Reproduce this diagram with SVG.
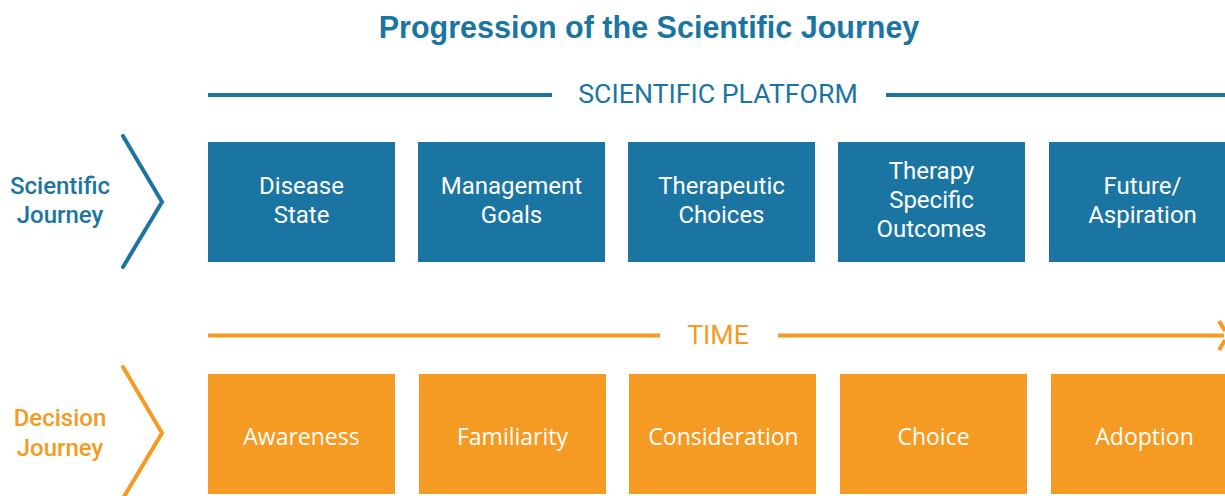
<svg xmlns="http://www.w3.org/2000/svg" width="1225" height="496" viewBox="0 0 1225 496">
<style>
.title{font-family:"Liberation Sans",Arial,sans-serif;font-size:30.5px;font-weight:bold;fill:#1b75a3;text-anchor:middle}
.blue{fill:#1b75a3}
.orange{fill:#f59a23}
.btxt{font-family:Roboto,"Liberation Sans",sans-serif;font-size:24px;fill:#ffffff;text-anchor:middle}
.otxt{font-family:"Open Sans","Liberation Sans",sans-serif;font-size:23px;fill:#ffffff;text-anchor:middle}
.lbl{font-family:Roboto,"Liberation Sans",sans-serif;font-size:24px;font-weight:500;text-anchor:middle}
.hdr{font-family:Roboto,"Liberation Sans",sans-serif;font-size:26.7px;text-anchor:middle}
.bl{stroke:#1b75a3;stroke-width:4;fill:none}
.ol{stroke:#f59a23;stroke-width:4;fill:none}
</style>
<rect width="1225" height="496" fill="#ffffff"/>
<text class="title" x="649" y="38">Progression of the Scientific Journey</text>
<g id="connectors">
<line class="bl" x1="208" y1="95" x2="552" y2="95"/>
<line class="bl" x1="886" y1="95" x2="1225" y2="95"/>
<line class="ol" x1="208" y1="335.5" x2="660" y2="335.5"/>
<line class="ol" x1="778" y1="335.5" x2="1224" y2="335.5"/>
<polyline class="ol" points="1219,321 1225,331"/>
<polyline class="ol" points="1219,350 1225,340"/>
<polyline class="bl" stroke-linecap="round" points="123,136 162,202 123,267"/>
<polyline class="ol" stroke-linecap="round" points="123,367 162,433 122,500"/>
</g>
<text class="hdr blue" x="718" y="103">SCIENTIFIC PLATFORM</text>
<text class="hdr orange" x="718" y="344">TIME</text>
<g id="label-scientific">
<text class="lbl blue" x="60" y="194">Scientific</text>
<text class="lbl blue" x="60" y="223">Journey</text>
</g>
<g id="label-decision">
<text class="lbl orange" x="60" y="426">Decision</text>
<text class="lbl orange" x="60" y="456">Journey</text>
</g>
<g id="disease-state"><rect class="blue" x="208" y="142" width="187" height="120"/><text class="btxt" x="301.5" y="194">Disease</text><text class="btxt" x="301.5" y="223">State</text></g>
<g id="management-goals"><rect class="blue" x="418" y="142" width="187" height="120"/><text class="btxt" x="511.5" y="194">Management</text><text class="btxt" x="511.5" y="223">Goals</text></g>
<g id="therapeutic-choices"><rect class="blue" x="628" y="142" width="187" height="120"/><text class="btxt" x="721.5" y="194">Therapeutic</text><text class="btxt" x="721.5" y="223">Choices</text></g>
<g id="therapy-outcomes"><rect class="blue" x="838" y="142" width="187" height="120"/><text class="btxt" x="931.5" y="179">Therapy</text><text class="btxt" x="931.5" y="208">Specific</text><text class="btxt" x="931.5" y="237">Outcomes</text></g>
<g id="future-aspiration"><rect class="blue" x="1049" y="142" width="187" height="120"/><text class="btxt" x="1142.5" y="194">Future/</text><text class="btxt" x="1142.5" y="223">Aspiration</text></g>
<g id="awareness"><rect class="orange" x="208" y="374" width="187" height="120"/><text class="otxt" x="301.5" y="445">Awareness</text></g>
<g id="familiarity"><rect class="orange" x="419" y="374" width="187" height="120"/><text class="otxt" x="512.5" y="445">Familiarity</text></g>
<g id="consideration"><rect class="orange" x="629" y="374" width="187" height="120"/><text class="otxt" x="723.5" y="445">Consideration</text></g>
<g id="choice"><rect class="orange" x="840" y="374" width="187" height="120"/><text class="otxt" x="933.5" y="445">Choice</text></g>
<g id="adoption"><rect class="orange" x="1051" y="374" width="187" height="120"/><text class="otxt" x="1144.5" y="445">Adoption</text></g>
</svg>
